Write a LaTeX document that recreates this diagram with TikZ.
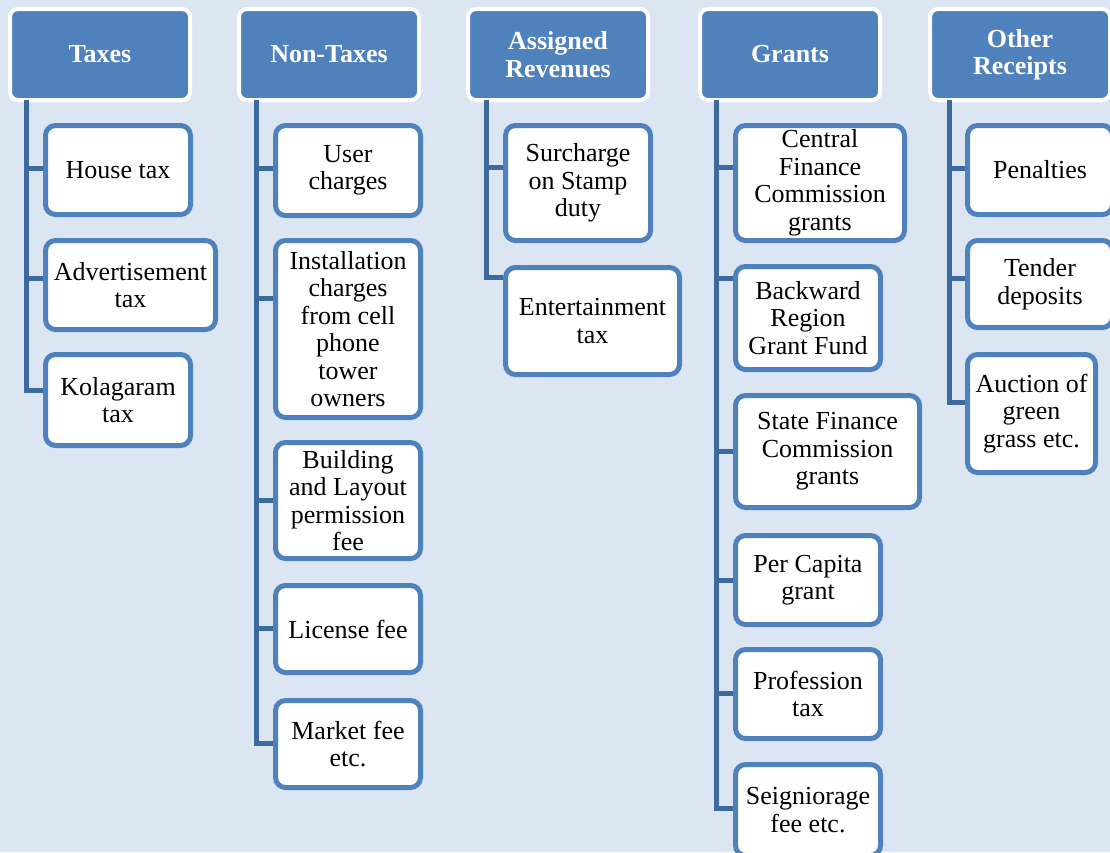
\documentclass[tikz,border=0pt]{standalone}
\usepackage{fontspec}
\setmainfont{Liberation Serif}
\definecolor{bgc}{HTML}{DCE6F2}
\definecolor{hblue}{HTML}{4F81BD}
\definecolor{cblue}{HTML}{4F81BD}
\definecolor{tblue}{HTML}{3D6A9E}
\tikzset{
  hdr/.style={rectangle, rounded corners=8pt, fill=hblue, draw=white, line width=4pt,
    minimum width=180pt, minimum height=91pt, text=white, align=center, inner sep=0pt,
    font=\fontsize{26}{27.5}\selectfont\bfseries},
  leaf/.style={rectangle, rounded corners=10pt, fill=white, draw=cblue, line width=5pt,
    align=center, inner sep=0pt, text=black, font=\fontsize{26}{27.5}\selectfont},
  trunk/.style={draw=tblue, line width=5pt}
}
\begin{document}
\begin{tikzpicture}[x=1pt, y=-1pt]
\fill[bgc] (0,0) rectangle (1110,852);
\useasboundingbox (0,0) rectangle (1110,852);
% trunk tops
\coordinate (t1) at (26,100);
\coordinate (t2) at (256,100);
\coordinate (t3) at (486,100);
\coordinate (t4) at (716,100);
\coordinate (t5) at (949,100);
% headers
\node[hdr] (h1) at (100,54.5) {Taxes};
\node[hdr] (h2) at (329,54.5) {Non-Taxes};
\node[hdr] (h3) at (558,54.5) {Assigned\\Revenues};
\node[hdr] (h4) at (790,54.5) {Grants};
\node[hdr] (h5) at (1020,54.5) {\raisebox{-2pt}{Other}\\\raisebox{-2pt}{Receipts}};
% Taxes
\node[leaf, minimum width=145pt, minimum height=89pt] (c11) at (118,170) {House tax};
\node[leaf, minimum width=170pt, minimum height=89pt] (c12) at (130.5,285) {Advertisement\\tax};
\node[leaf, minimum width=145pt, minimum height=91pt] (c13) at (118,400) {Kolagaram\\tax};
% Non-Taxes
\node[leaf, minimum width=145pt, minimum height=90pt] (c21) at (348,170.5) {User\\charges};
\node[leaf, minimum width=145pt, minimum height=177pt] (c22) at (348,329) {Installation\\charges\\from cell\\phone\\tower\\owners};
\node[leaf, minimum width=145pt, minimum height=116pt] (c23) at (348,500.5) {Building\\and Layout\\permission\\fee};
\node[leaf, minimum width=145pt, minimum height=87pt] (c24) at (348,629) {License fee};
\node[leaf, minimum width=145pt, minimum height=87pt] (c25) at (348,744) {Market fee\\etc.};
% Assigned Revenues
\node[leaf, minimum width=145pt, minimum height=115pt] (c31) at (578,183) {Surcharge\\on Stamp\\duty};
\node[leaf, minimum width=174pt, minimum height=107pt] (c32) at (592.5,321) {Entertainment\\tax};
% Grants
\node[leaf, minimum width=169pt, minimum height=115pt] (c41) at (820,183) {Central\\Finance\\Commission\\grants};
\node[leaf, minimum width=145pt, minimum height=103pt] (c42) at (808,318) {Backward\\Region\\Grant Fund};
\node[leaf, minimum width=184pt, minimum height=112pt] (c43) at (827.5,451.5) {State Finance\\Commission\\grants};
\node[leaf, minimum width=145pt, minimum height=89pt] (c44) at (808,580) {Per Capita\\grant};
\node[leaf, minimum width=145pt, minimum height=89pt] (c45) at (808,694) {Profession\\tax};
\node[leaf, minimum width=145pt, minimum height=91pt] (c46) at (808,810) {Seigniorage\\fee etc.};
% Other Receipts
\node[leaf, minimum width=145pt, minimum height=89pt] (c51) at (1040,170) {Penalties};
\node[leaf, minimum width=145pt, minimum height=87pt] (c52) at (1040,284) {Tender\\deposits};
\node[leaf, minimum width=128pt, minimum height=118pt] (c53) at (1031.5,413.5) {Auction of\\green\\grass etc.};
% connectors
\draw[trunk] (t1) |- ([yshift=10pt]c13.west);
\draw[trunk] ([yshift=2pt]c11.west) -- ([yshift=2pt]c11.west -| t1);
\draw[trunk] ([yshift=7pt]c12.west) -- ([yshift=7pt]c12.west -| t1);
\draw[trunk] (t2) |- ([yshift=1pt]c25.west);
\draw[trunk] ([yshift=2.5pt]c21.west) -- ([yshift=2.5pt]c21.west -| t2);
\draw[trunk] ([yshift=31pt]c22.west) -- ([yshift=31pt]c22.west -| t2);
\draw[trunk] (c23.west) -- (c23.west -| t2);
\draw[trunk] ([yshift=1pt]c24.west) -- ([yshift=1pt]c24.west -| t2);
\draw[trunk] (t3) |- ([yshift=44pt]c32.west);
\draw[trunk] ([yshift=16pt]c31.west) -- ([yshift=16pt]c31.west -| t3);
\draw[trunk] (t4) |- ([yshift=2pt]c46.west);
\draw[trunk] ([yshift=16pt]c41.west) -- ([yshift=16pt]c41.west -| t4);
\draw[trunk] ([yshift=40pt]c42.west) -- ([yshift=40pt]c42.west -| t4);
\draw[trunk] (c43.west) -- (c43.west -| t4);
\draw[trunk] (c44.west) -- (c44.west -| t4);
\draw[trunk] ([yshift=1pt]c45.west) -- ([yshift=1pt]c45.west -| t4);
\draw[trunk] (t5) |- ([yshift=11.5pt]c53.west);
\draw[trunk] ([yshift=2pt]c51.west) -- ([yshift=2pt]c51.west -| t5);
\draw[trunk] ([yshift=6pt]c52.west) -- ([yshift=6pt]c52.west -| t5);
\end{tikzpicture}
\end{document}
